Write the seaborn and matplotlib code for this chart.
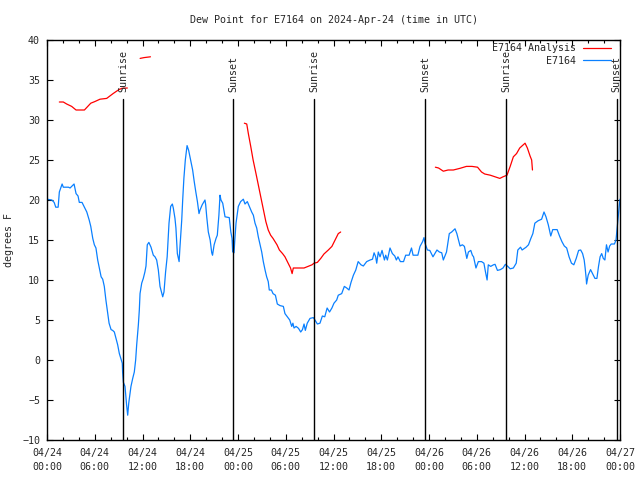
import numpy as np
import pandas as pd
import matplotlib
matplotlib.use('Agg')
import matplotlib.pyplot as plt
import matplotlib.dates as mdates
import seaborn as sns

# Hours after 2024-04-24 00:00 UTC
start = pd.Timestamp('2024-04-24 00:00')

# Station dew point (E7164)
obs_hours = [
    0.0, 0.6, 0.9, 1.1, 1.4, 1.55, 1.9, 2.05, 2.7, 2.9, 3.4, 3.65, 3.9, 4.06, 4.4, 4.7,
    5.0, 5.3, 5.5, 5.75, 5.95, 6.15, 6.37, 6.58, 6.8, 7.0, 7.2, 7.4, 7.6, 7.8, 8.05, 8.25,
    8.46, 8.67, 8.88, 9.09, 9.3, 9.46, 9.5, 9.6, 9.8, 10.0, 10.14, 10.27, 10.4, 10.55, 10.77, 10.97,
    11.14, 11.27, 11.48, 11.6, 11.69, 11.9, 12.1, 12.3, 12.44, 12.6, 12.8, 13.07, 13.36, 13.57, 13.78, 13.99,
    14.2, 14.54, 14.7, 14.9, 15.1, 15.33, 15.54, 15.75, 15.87, 16.08, 16.2, 16.38, 16.6, 16.7, 16.93, 17.05,
    17.2, 17.38, 17.6, 17.8, 18.05, 18.3, 18.5, 18.7, 18.9, 19.1, 19.23, 19.5, 19.85, 19.94, 20.07, 20.27,
    20.5, 20.7, 20.8, 21.0, 21.24, 21.4, 21.6, 21.74, 21.86, 22.08, 22.37, 22.9, 23.1, 23.25, 23.33, 23.42,
    23.5, 23.6, 23.75, 23.9, 24.04, 24.33, 24.67, 24.88, 25.17, 25.42, 25.72, 25.93, 26.14, 26.35, 26.55, 26.77,
    26.98, 27.18, 27.4, 27.6, 27.8, 27.93, 28.2, 28.4, 28.7, 28.94, 29.28, 29.7, 29.9, 30.2, 30.5, 30.75,
    30.9, 31.04, 31.3, 31.6, 31.88, 32.1, 32.3, 32.46, 32.7, 33.05, 33.46, 33.67, 33.97, 34.3, 34.6, 34.9,
    35.2, 35.5, 35.8, 36.06, 36.4, 36.6, 37.03, 37.36, 37.66, 37.95, 38.2, 38.5, 38.8, 39.1, 39.45, 39.75,
    40.17, 40.6, 40.9, 41.1, 41.3, 41.43, 41.63, 41.85, 42.1, 42.4, 42.56, 42.77, 43.1, 43.4, 43.7, 43.9,
    44.1, 44.4, 44.8, 45.07, 45.5, 45.8, 46.0, 46.6, 46.87, 47.2, 47.37, 47.5, 47.8, 48.1, 48.5, 49.0,
    49.3, 49.6, 49.8, 50.2, 50.55, 50.85, 51.27, 51.5, 51.9, 52.2, 52.45, 52.75, 52.95, 53.25, 53.45, 53.6,
    53.9, 54.2, 54.6, 54.9, 55.1, 55.3, 55.45, 55.75, 56.1, 56.3, 56.6, 56.98, 57.3, 57.6, 57.9, 58.2,
    58.6, 58.96, 59.16, 59.5, 59.7, 60.2, 60.5, 60.8, 61.05, 61.3, 61.7, 62.15, 62.45, 62.7, 62.99, 63.3,
    63.55, 64.1, 64.4, 64.7, 65.0, 65.3, 65.6, 65.9, 66.2, 66.5, 66.8, 67.06, 67.3, 67.5, 67.62, 67.75,
    67.8, 68.0, 68.3, 68.55, 68.85, 69.1, 69.3, 69.5, 69.7, 69.9, 70.1, 70.3, 70.5, 70.7, 70.9, 71.3,
    71.5, 71.7, 71.9, 72.0,
]
obs_dewpt = [
    20.1, 20.0, 19.7, 19.1, 19.1, 21.0, 22.0, 21.6, 21.6, 21.5, 22.0, 20.8, 20.5, 19.7, 19.7, 19.1,
    18.5, 17.5, 16.7, 15.2, 14.4, 14.0, 12.5, 11.5, 10.4, 10.1, 9.2, 7.5, 6.0, 4.6, 3.8, 3.7,
    3.5, 2.7, 1.9, 0.8, 0.1, -0.4, -1.5, -2.8, -3.3, -5.6, -6.9, -5.4, -4.4, -3.3, -2.3, -1.5,
    0.0, 1.9, 4.4, 6.25, 8.3, 9.6, 10.2, 11.0, 11.75, 14.4, 14.7, 14.1, 13.1, 12.9, 12.5, 11.25,
    9.2, 7.9, 8.5, 11.0, 12.9, 17.1, 19.2, 19.5, 19.0, 17.7, 16.5, 13.3, 12.3, 14.0, 17.5, 20.0,
    22.7, 25.0, 26.8, 26.2, 25.0, 23.75, 22.3, 21.0, 19.8, 18.3, 18.75, 19.4, 20.0, 19.4, 17.9, 16.0,
    15.0, 13.4, 13.1, 14.4, 15.2, 15.6, 18.1, 20.6, 20.0, 19.6, 17.9, 17.8, 16.0, 15.2, 13.5, 15.0,
    13.4, 15.0, 17.1, 18.2, 19.2, 19.8, 20.1, 19.5, 19.8, 19.2, 18.5, 18.1, 17.1, 16.5, 15.4, 14.4,
    13.5, 12.3, 11.25, 10.4, 9.8, 8.75, 8.75, 8.3, 8.1, 7.0, 6.8, 6.7, 5.8, 5.4, 5.0, 4.2,
    4.6, 4.0, 4.2, 3.96, 3.5, 3.8, 4.5, 3.7, 4.6, 5.2, 5.3, 5.0, 4.5, 4.6, 5.5, 5.4,
    6.5, 6.0, 6.5, 7.1, 7.5, 8.1, 8.3, 9.2, 9.0, 8.75, 9.7, 10.6, 11.25, 12.3, 11.9, 11.75,
    12.3, 12.5, 12.6, 13.4, 12.9, 12.1, 13.5, 12.9, 13.7, 12.5, 13.1, 12.5, 14.0, 13.3, 13.0, 12.5,
    12.9, 12.3, 12.3, 13.1, 13.1, 14.0, 13.1, 13.1, 14.2, 14.8, 15.3, 14.6, 13.75, 13.7, 12.9, 13.75,
    13.5, 13.4, 12.5, 13.5, 15.8, 16.0, 16.4, 15.8, 14.25, 14.4, 14.2, 12.7, 13.5, 13.7, 13.1, 12.9,
    11.5, 12.3, 12.3, 12.1, 11.0, 10.0, 11.9, 11.7, 11.9, 11.96, 11.2, 11.3, 11.5, 11.96, 11.7, 11.4,
    11.5, 12.1, 13.75, 14.1, 13.75, 14.1, 14.4, 15.2, 15.8, 17.1, 17.4, 17.6, 18.5, 17.9, 16.9, 15.5,
    16.3, 16.3, 15.5, 14.8, 14.25, 14.0, 12.9, 12.1, 11.9, 12.7, 13.7, 13.75, 13.3, 12.5, 11.5, 10.2,
    9.5, 10.6, 11.3, 10.8, 10.2, 10.2, 11.7, 12.9, 13.3, 12.7, 12.5, 14.4, 13.5, 14.25, 14.5, 14.5,
    15.0, 17.1, 19.2, 20.1,
]

# Analysis dew point, NaN marks a gap
ana_hours = [
    1.55, 2.05, 2.47, 3.1, 3.65, 4.7, 5.5, 6.0, 6.66, 7.5, 8.3, 8.96, 9.4, 10.1, 10.9,
    11.7, 12.2, 13.0, 18.0,
    24.8, 25.1, 25.3, 25.6, 25.9, 26.26, 26.55, 26.9, 27.2, 27.5, 27.8, 28.1, 28.4, 28.9, 29.2, 29.6,
    29.9, 30.3, 30.6, 30.8, 30.95, 31.8, 32.3, 32.8, 33.3, 33.55, 33.97, 34.4, 34.8, 35.35, 35.8, 36.2,
    36.6, 36.9, 42.0,
    48.8, 49.2, 49.8, 50.4, 51.06, 51.9, 52.7, 53.4, 54.1, 54.6, 55.0, 55.7, 56.3, 56.9, 57.3, 57.8,
    58.2, 58.6, 59.0, 59.4, 60.07, 60.36, 60.7, 60.9, 61.0,
]
ana_dewpt = [
    32.25, 32.25, 32.0, 31.7, 31.25, 31.25, 32.1, 32.3, 32.6, 32.7, 33.3, 33.75, 33.96, 34.0, np.nan,
    37.7, 37.8, 37.9, np.nan,
    29.6, 29.5, 28.3, 26.7, 25.0, 23.3, 21.9, 20.2, 18.75, 17.3, 16.25, 15.6, 15.2, 14.4, 13.75, 13.3,
    12.9, 12.1, 11.5, 10.8, 11.5, 11.5, 11.5, 11.7, 11.9, 12.1, 12.2, 12.7, 13.25, 13.75, 14.2, 15.0,
    15.8, 16.0, np.nan,
    24.1, 24.0, 23.6, 23.75, 23.75, 23.96, 24.2, 24.2, 24.1, 23.5, 23.25, 23.1, 22.9, 22.7, 22.9, 23.1,
    24.2, 25.4, 25.8, 26.5, 27.1, 26.5, 25.5, 25.0, 23.75,
]

sun_hours = [9.59, 23.41, 33.59, 47.54, 57.72, 71.59]
sun_labels = ['Sunrise', 'Sunset', 'Sunrise', 'Sunset', 'Sunrise', 'Sunset']

obs = pd.DataFrame({'time': start + pd.to_timedelta(obs_hours, unit='h'), 'dewpt': obs_dewpt})
ana = pd.DataFrame({'time': start + pd.to_timedelta(ana_hours, unit='h'), 'dewpt': ana_dewpt})
ana['seg'] = ana['dewpt'].isna().cumsum()
ana = ana.dropna()

sns.set_style('ticks')
plt.rcParams['font.family'] = ['DejaVu Sans Mono']
plt.rcParams['font.size'] = 7.2

fig = plt.figure(figsize=(6.4, 4.8), dpi=100)
ax = fig.add_axes([47 / 640, 40 / 480, 573 / 640, 400 / 480])

# analysis line is broken into pieces where data is missing
for i, (seg, d) in enumerate(ana.groupby('seg')):
    sns.lineplot(data=d, x='time', y='dewpt', color='#ff0000', linewidth=0.9,
                 label='E7164 Analysis' if i == 0 else None, ax=ax)
sns.lineplot(data=obs, x='time', y='dewpt', color='#0a80ff', linewidth=0.9,
             label='E7164', ax=ax)

# sunrise / sunset markers
for h, lab in zip(sun_hours, sun_labels):
    xs = mdates.date2num(start + pd.Timedelta(hours=h))
    ax.axvline(xs, ymin=0, ymax=0.8525, color='black', linewidth=1.0)
    ax.text(xs, 0.87, lab, transform=ax.get_xaxis_transform(), rotation=90,
            ha='center', va='bottom', fontsize=7.2)

ax.set_xlim(start, start + pd.Timedelta(hours=72))
ax.set_ylim(-10, 40)
ax.set_yticks(range(-10, 41, 5))
ax.xaxis.set_major_locator(mdates.HourLocator(byhour=range(0, 24, 6)))
ax.xaxis.set_minor_locator(mdates.HourLocator(byhour=range(0, 24, 2)))
ax.xaxis.set_major_formatter(mdates.DateFormatter('%m/%d\n%H:%M'))

ax.tick_params(axis='both', which='both', direction='in', top=True, right=True,
               color='black', width=0.8)
ax.tick_params(axis='both', which='major', length=4.5)
ax.tick_params(axis='x', which='minor', length=2.5)
ax.tick_params(axis='x', which='major', pad=6)
ax.tick_params(axis='y', which='major', pad=5)
for lbl in ax.get_xticklabels():
    lbl.set_linespacing(1.45)

for sp in ax.spines.values():
    sp.set_color('black')
    sp.set_linewidth(1.0)

ax.set_xlabel('')
ax.set_ylabel('degrees F', labelpad=6)
ax.set_title('Dew Point for E7164 on 2024-Apr-24 (time in UTC)', pad=12, fontsize=7.2)

ax.legend(loc='upper right', bbox_to_anchor=(611 / 640, 1 - 43 / 480),
          bbox_transform=fig.transFigure, frameon=False, markerfirst=False,
          handlelength=2.8, handletextpad=0.7, borderpad=0, borderaxespad=0,
          labelspacing=0.25, fontsize=7.2)

fig.savefig('out.png', dpi=100)
